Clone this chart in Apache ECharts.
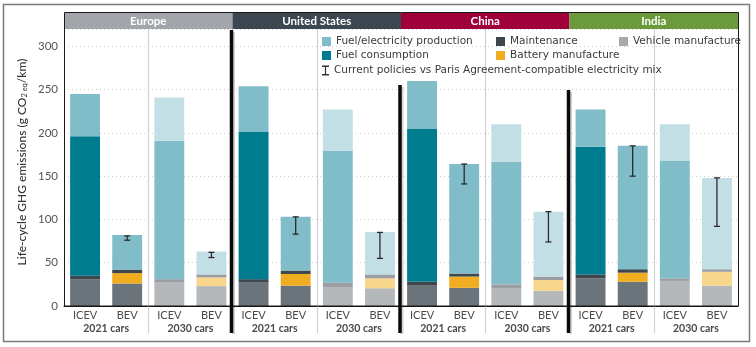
<!DOCTYPE html>
<html><head><meta charset="utf-8">
<script src="https://cdn.jsdelivr.net/npm/echarts@6/dist/echarts.min.js"></script>
<style>html,body{margin:0;padding:0;background:#fff}#c{width:756px;height:347px}</style>
</head><body><div id="c"></div>
<script>
// ---- data ----
const regions = ['Europe', 'United States', 'China', 'India'];
const carTypes = ['ICEV','BEV','ICEV','BEV','ICEV','BEV','ICEV','BEV','ICEV','BEV','ICEV','BEV','ICEV','BEV','ICEV','BEV'];
const cohorts = ['2021 cars','2030 cars','2021 cars','2030 cars','2021 cars','2030 cars','2021 cars','2030 cars'];
const vehicleManufacture = [31,26,27,23, 27,23.5,22,20.5, 23.5,21,20,17.5, 32,28,29,23.5];
const batteryManufacture = [0,12,0,10, 0,13.5,0,11.5, 0,13,0,12.5, 0,10.5,0,16];
const maintenance = [4,4,4,3.5, 4,4,5,4.5, 4.5,3.5,5,4, 4.5,4,3,3];
const fuelConsumption = [161,0,160,0, 170,0,152,0, 177,0,141.5,0, 147.5,0,136,0];
const fuelElecProduction = [49,40,50,26.5, 53,62,48,49, 55,126.5,43.5,75, 43,142.5,42,105.5];
const errHigh = [null,81,null,62, null,103,null,85, null,164,null,109, null,185,null,148];
const errLow = [null,76,null,56, null,83,null,55, null,141,null,74, null,150,null,92];
const yTicks = [0,50,100,150,200,250,300];

// ---- styles ----
const FONT = 'Lato';
const LFONT = 'DejaVu Sans';
const regionColors = ['#a2a6aa','#3d4751','#a0003a','#6b9a3c'];
const col21 = {veh:'#6c747b', bat:'#f0ad1f', mnt:'#3f474e', fuel:'#007c8f', prod:'#80bdc8'};
const col30 = {veh:'#b5b8bb', bat:'#f8d68b', mnt:'#9a9ea2', fuel:'#80bdc8', prod:'#c1dfe5'};
const legendColors = {veh:'#a7aaad', bat:'#f0ad1f', mnt:'#3f474e', fuel:'#007c8f', prod:'#80bdc8'};

function isLater(i){ return Math.floor(i/2) % 2 === 1; }
function mk(arr, key){
  return arr.map((v,i)=>({value: v, itemStyle:{color: (isLater(i)?col30:col21)[key]}}));
}
const names = {
  veh:'Vehicle manufacture', bat:'Battery manufacture', mnt:'Maintenance',
  fuel:'Fuel consumption', prod:'Fuel/electricity production',
  err:'Current policies vs Paris Agreement-compatible electricity mix'
};
function barSeries(key, arr){
  return {name:names[key], type:'bar', stack:'t', data:mk(arr,key), barWidth:'71%',
    itemStyle:{color:col21[key]}, emphasis:{disabled:true}};
}
const errData = [];
errHigh.forEach((h,i)=>{ if(h!=null) errData.push([i, errLow[i], h]); });

const chart = echarts.init(document.getElementById('c'));
const legendBase = {selectedMode:false, icon:'rect', itemWidth:9, itemHeight:9,
  textStyle:{fontFamily:LFONT, fontSize:10.5, color:'#3a3a3a'}, padding:0};
const option = {
  animation:false,
  textStyle:{fontFamily:FONT},
  grid:{left:64, right:18, top:29, bottom:41, containLabel:false},
  legend:[
    Object.assign({left:322, top:36, data:[{name:names.prod, itemStyle:{color:legendColors.prod}}]}, legendBase),
    Object.assign({left:496, top:36, data:[{name:names.mnt, itemStyle:{color:legendColors.mnt}}]}, legendBase),
    Object.assign({left:619, top:36, data:[{name:names.veh, itemStyle:{color:legendColors.veh}}]}, legendBase),
    Object.assign({left:322, top:50, data:[{name:names.fuel, itemStyle:{color:legendColors.fuel}}]}, legendBase),
    Object.assign({left:496, top:50, data:[{name:names.bat, itemStyle:{color:legendColors.bat}}]}, legendBase),
    Object.assign({}, legendBase, {left:322, top:65, itemWidth:7, itemHeight:10,
      data:[{name:names.err, icon:'path://M0,0H7V1.4H4.1V8.6H7V10H0V8.6H2.9V1.4H0Z', itemStyle:{color:'#333'}}]})
  ],
  xAxis:[
    {type:'category', data:carTypes, axisLine:{lineStyle:{color:'#111', width:1}},
      axisTick:{show:false}, axisLabel:{interval:0, margin:4, fontSize:11, color:'#4a4a4a', fontFamily:FONT},
      splitLine:{show:false}},
    {type:'category', data:cohorts, position:'bottom', axisLine:{show:false}, axisTick:{show:false},
      axisLabel:{interval:0, margin:17, fontSize:10.5, fontWeight:'bold', color:'#4a4a4a', fontFamily:FONT}}
  ],
  yAxis:{type:'value', min:0, max:320, interval:50,
    axisLine:{show:true, lineStyle:{color:'#111'}}, axisTick:{show:false},
    axisLabel:{showMaxLabel:false, fontSize:11.5, color:'#555', margin:6, fontFamily:FONT},
    splitLine:{lineStyle:{color:'#cfcfcf', type:[1,3]}}},
  series:[
    barSeries('veh', vehicleManufacture),
    barSeries('bat', batteryManufacture),
    barSeries('mnt', maintenance),
    barSeries('fuel', fuelConsumption),
    barSeries('prod', fuelElecProduction),
    {name:names.err, type:'custom', z:10, data:errData, encode:{x:0, y:[1,2]}, itemStyle:{color:'#333'},
      renderItem:function(params, api){
        const x = api.coord([api.value(0), 0])[0];
        const yl = api.coord([api.value(0), api.value(1)])[1];
        const yh = api.coord([api.value(0), api.value(2)])[1];
        const w = 3, st = {stroke:'#2b2b2b', lineWidth:1.3};
        return {type:'group', children:[
          {type:'line', shape:{x1:x, y1:yh, x2:x, y2:yl}, style:st},
          {type:'line', shape:{x1:x-w, y1:yh, x2:x+w, y2:yh}, style:st},
          {type:'line', shape:{x1:x-w, y1:yl, x2:x+w, y2:yl}, style:st}
        ]};
      }}
  ]
};
chart.setOption(option);

// decorations derived from the axis scale
const px = i => chart.convertToPixel({xAxisIndex:0}, i);
const boundary = i => (px(i) + px(i+1)) / 2; // between category i and i+1
const step = px(1) - px(0);
const left0 = px(0) - step/2, right0 = px(15) + step/2;
const gTop = chart.convertToPixel({yAxisIndex:0}, 320);
const gBot = chart.convertToPixel({yAxisIndex:0}, 0);
const graphics = [];
// outer frame
graphics.push({type:'rect', shape:{x:3.5, y:4.5, width:746, height:337},
  style:{fill:null, stroke:'#7a7a7a', lineWidth:1.5}, z:1});
// y axis title
graphics.push({type:'text', x:22, y:162, rotation:Math.PI/2, z:5,
  style:{text:'{a|Life-cycle GHG emissions (g CO}{s|2 eq}{a|/km)}', align:'center', verticalAlign:'middle',
    rich:{a:{fontSize:12, fill:'#333', fontFamily:FONT, fontWeight:500}, s:{fontSize:7.5, fill:'#333', fontFamily:FONT, padding:[6,0,0,0]}}}});
// headers
regions.forEach((r, k)=>{
  const x0 = k===0 ? left0 : boundary(4*k-1);
  const x1 = k===3 ? right0 : boundary(4*k+3);
  graphics.push({type:'rect', shape:{x:x0, y:gTop-16, width:x1-x0, height:16}, style:{fill:regionColors[k]}, z:5});
  graphics.push({type:'text', x:(x0+x1)/2, y:gTop-8, style:{text:r, fill:'#fff', font:'bold 11.5px '+FONT, align:'center', verticalAlign:'middle'}, z:6});
  // separator between 2021 and 2030 groups
  const sx = Math.round(boundary(4*k+1)) + 0.5;
  graphics.push({type:'line', shape:{x1:sx, y1:gTop, x2:sx, y2:gBot+27}, style:{stroke:'#cfd2d4', lineWidth:1.2}, z:2});
});
// plot box
graphics.push({type:'rect', shape:{x:Math.round(left0)+0.5, y:gTop-16.5, width:Math.round(right0-left0), height:gBot-gTop+16.5},
  style:{fill:null, stroke:'#1a1a1a', lineWidth:1}, z:7});
// thick black overlay strokes at panel boundaries
const starts = [30, 85, 90];
[3,7,11].forEach((c, j)=>{
  const bx = boundary(c) - 1;
  graphics.push({type:'line', shape:{x1:bx+2, y1:starts[j]+2, x2:bx+2, y2:334}, style:{stroke:'rgba(0,0,0,0.18)', lineWidth:3}, z:8});
  graphics.push({type:'line', shape:{x1:bx, y1:starts[j], x2:bx, y2:333}, style:{stroke:'#0a0a0a', lineWidth:3.5}, z:9});
});
chart.setOption({graphic:graphics});
</script></body></html>
